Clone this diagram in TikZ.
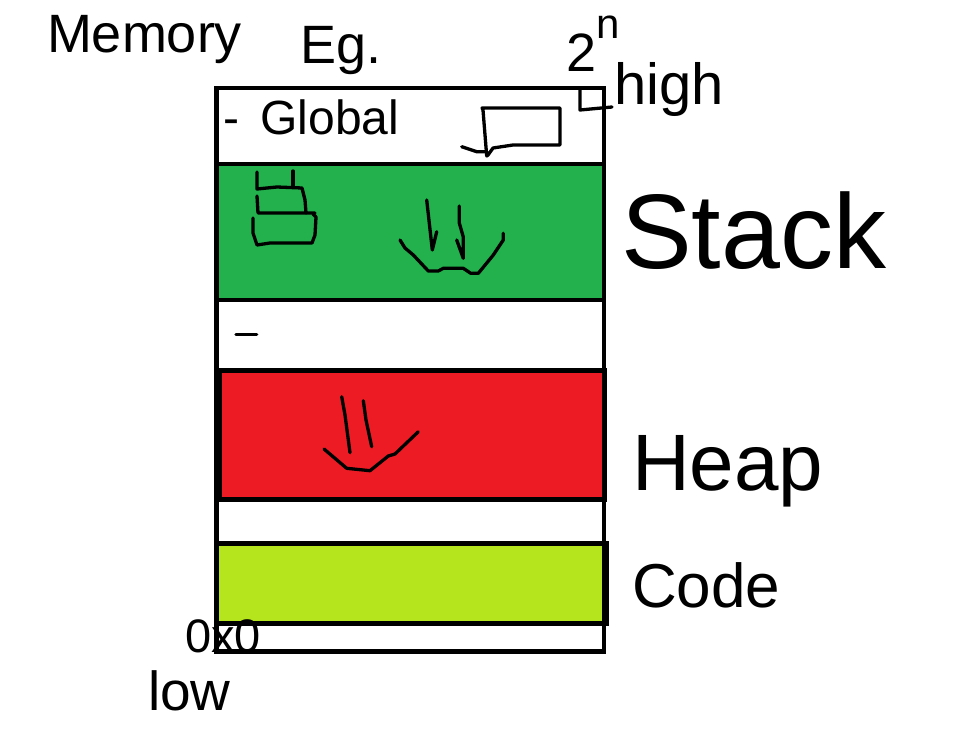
\documentclass[tikz,border=0pt]{standalone}
\usepackage{fontspec}
\setmainfont{Liberation Sans}
\definecolor{paintgreen}{RGB}{34,177,76}
\definecolor{paintred}{RGB}{237,28,36}
\definecolor{paintlime}{RGB}{181,230,29}
\newcommand\hfs[1]{\fontsize{#1}{#1}\selectfont}
\begin{document}
\begin{tikzpicture}[x=1pt,y=-1pt,
  frame/.style={draw=black,line width=4.5pt},
  ink/.style={draw=black,line width=3.3pt,line cap=round,line join=round},
  hand/.style={inner sep=0pt,outer sep=0pt,anchor=base west,text=black}]
\fill[white] (0,0) rectangle (957,741);
\useasboundingbox (0,0) rectangle (957,741);
% regions
\fill[paintgreen] (218,164) rectangle (603,300);
\draw[frame,fill=paintred,line width=5pt] (219.5,370.5) rectangle (604,499);
\draw[frame,fill=paintlime,line width=5pt] (216.5,543.5) rectangle (606.5,623);
\draw[frame] (216.5,164) -- (604,164);
\draw[frame] (216.5,300) -- (604,300);
\draw[frame] (216.5,370.5) -- (604,370.5);
\draw[frame] (216.5,88) rectangle (604,651.5);
% global sketch
\draw[ink] (483,110) -- (482,108) -- (560,108) -- (560,145) -- (513,145) -- (493,148) -- (488,155) -- (486.7,156) -- cycle;
\draw[ink] (461.7,146.7) -- (476.7,151.7) -- (486.7,151.7);
% stack frames sketch
\draw[ink] (257,172) -- (257,189) -- (277,187) -- (302,188) -- (305,200) -- (306,213);
\draw[ink] (293,171) -- (293,187);
\draw[ink] (257,196) -- (258,213) -- (315,213);
\draw[ink] (253,218) -- (253,233) -- (257,245) -- (270,243) -- (312,243) -- (315,235) -- (316,217) -- (313,214);
% stack arrows
\draw[ink] (426.7,200) -- (432.3,250) -- (436.7,231.7);
\draw[ink] (459.3,206) -- (459.3,223) -- (463.3,237) -- (463.3,258.3) -- (456.7,240);
\draw[ink] (400,240) -- (405,248) -- (413.3,255) -- (428.3,271) -- (438.3,271) -- (443.3,268.3) -- (463.3,268.3) -- (470.7,273.3) -- (478.3,273.3) -- (493.3,255) -- (503.3,240) -- (503.3,233.3);
% gap dash
\draw[ink] (236,334.3) -- (256.7,334.3);
% heap arrows
\draw[ink] (341.7,396.7) -- (345,415) -- (350,452.7);
\draw[ink] (363.3,400.7) -- (366,420) -- (371.7,446.7);
\draw[ink] (324,449) -- (346.7,468.3) -- (370,470.7) -- (388.3,456) -- (395,454) -- (418.3,431.7);
% high marker
\draw[ink] (580,90) -- (580,110) -- (612,107);
% texts
\node[hand,font=\hfs{54}] (memory) at (47,53) {Memory};
\node[hand,font=\hfs{54}] (eg) at (300,64) {Eg.};
\node[hand,font=\hfs{54}] (top) at (566,72) {2\raisebox{33pt}{\hfs{42}n}};
\node[hand,font=\hfs{58}] (high) at (614,105) {high};
\node[hand,font=\hfs{48}] (global) at (223,134) {-\hspace{0.45em}Global};
\node[hand,font=\hfs{106}] (stack) at (621,268) {Stack};
\node[hand,font=\hfs{80}] (heap) at (632,490) {Heap};
\node[hand,font=\hfs{62}] (code) at (632,607) {Code};
\node[hand,font=\hfs{47}] (zero) at (185,652) {0x0};
\node[hand,font=\hfs{55}] (low) at (148,710) {low};
\end{tikzpicture}
\end{document}
